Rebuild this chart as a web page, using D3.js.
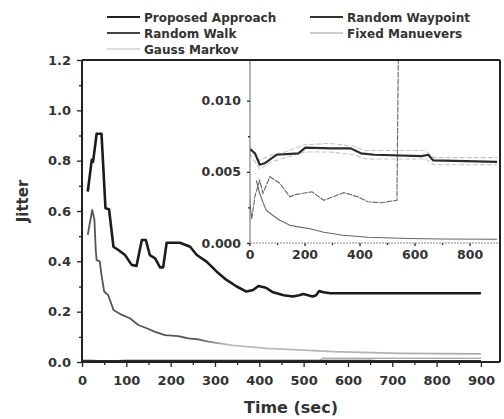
<!DOCTYPE html>
<html><head><meta charset="utf-8">
<script src="https://cdn.jsdelivr.net/npm/d3@7"></script>
<style>
html,body{margin:0;padding:0;background:#fff;}
text{font-family:"DejaVu Sans",sans-serif;font-weight:bold;fill:#333;}
</style></head>
<body>
<svg id="chart" width="504" height="419"></svg>
<script>
// ---------- data (time in sec, jitter) ----------
const seriesNames = ["Proposed Approach","Random Waypoint","Random Walk","Fixed Manuevers","Gauss Markov"];

const proposed = [[13,0.677],[22,0.803],[25,0.796],[33,0.907],[44,0.907],[53,0.611],[61,0.607],[71,0.458],[82,0.445],[97,0.425],[112,0.386],[123,0.382],[135,0.485],[144,0.485],[153,0.425],[165,0.412],[176,0.376],[183,0.376],[191,0.474],[221,0.474],[244,0.458],[259,0.425],[281,0.399],[304,0.359],[326,0.326],[349,0.300],[371,0.280],[386,0.286],[398,0.302],[415,0.295],[431,0.277],[455,0.265],[476,0.260],[490,0.265],[499,0.270],[510,0.265],[520,0.260],[528,0.265],[535,0.282],[545,0.277],[560,0.273],[900,0.273]];

const randomWalk = [[13,0.505],[23,0.604],[28,0.565],[31,0.445],[33,0.405],[40,0.400],[44,0.346],[50,0.280],[59,0.266],[71,0.207],[90,0.187],[108,0.174],[127,0.147],[146,0.134],[165,0.120],[187,0.107],[217,0.103],[240,0.094],[262,0.090],[285,0.081],[340,0.066],[417,0.054],[567,0.041],[717,0.034],[900,0.032]];

const randomWaypoint = [[0,0.0066],[8,0.0065],[20,0.0063],[37,0.0055],[55,0.0056],[80,0.00595],[98,0.0062],[178,0.0063],[203,0.0067],[295,0.00665],[368,0.00665],[405,0.0063],[454,0.0062],[626,0.0061],[650,0.0062],[668,0.0058],[900,0.0057]];
const waypointUpper = [[0,0.0068],[37,0.0058],[80,0.0062],[130,0.0064],[200,0.0069],[290,0.0070],[380,0.0068],[420,0.0065],[640,0.0065],[670,0.0060],[900,0.0060]];
const waypointLower = [[0,0.0063],[37,0.0052],[80,0.0057],[130,0.0060],[200,0.0064],[290,0.0064],[380,0.0062],[420,0.0059],[640,0.0059],[670,0.0055],[900,0.0055]];

const fixedManuevers = [[0,0.0032],[8,0.0017],[20,0.0033],[37,0.0044],[49,0.0035],[74,0.00466],[110,0.0042],[147,0.00325],[166,0.0034],[227,0.0036],[270,0.0030],[343,0.00354],[393,0.00325],[430,0.0029],[478,0.00283],[536,0.0030],[542,0.015],[900,0.015]];

const gaussMarkov = [[25,0.0044],[35,0.0036],[50,0.0028],[61,0.0023],[80,0.0020],[110,0.0016],[147,0.00125],[172,0.00115],[220,0.0010],[270,0.00075],[340,0.00055],[430,0.0004],[577,0.00032],[700,0.00028],[900,0.00026]];

const xTicks = [0,100,200,300,400,500,600,700,800,900];
const xMinor = [50,150,250,350,450,550,650,750,850];
const yTicks = [0,0.2,0.4,0.6,0.8,1.0,1.2];
const yMinor = [0.1,0.3,0.5,0.7,0.9,1.1];
const insetXTicks = [0,200,400,600,800];
const insetXMinor = [100,300,500,700];
const insetYTicks = [0,0.005,0.010];
const insetYMinor = [0.0025,0.0075];

// ---------- styles ----------
const style = {
  "Proposed Approach": {stroke:"#1c1c1c", width:2.6},
  "Random Waypoint":   {stroke:"#2a2a2a", width:2.2},
  "Random Walk":       {stroke:"#555", width:1.8},
  "Fixed Manuevers":   {stroke:"#8a8a8a", width:1.0},
  "Gauss Markov":      {stroke:"#b5b5b5", width:1.0}
};

const svg = d3.select("#chart");
svg.append("rect").attr("width",504).attr("height",419).attr("fill","#fff");

const x = d3.scaleLinear().domain([0,943]).range([82,500]);
const y = d3.scaleLinear().domain([0,1.2]).range([362,60]);
const xi = d3.scaleLinear().domain([0,910.7]).range([249.5,500]);
const yi = d3.scaleLinear().domain([0,0.01286]).range([243,60]);

// gradient for random walk fading
const defs = svg.append("defs");
const grad = defs.append("linearGradient").attr("id","rwGrad")
  .attr("gradientUnits","userSpaceOnUse")
  .attr("x1",x(0)).attr("x2",x(900)).attr("y1",0).attr("y2",0);
grad.append("stop").attr("offset",(x(260)-x(0))/(x(900)-x(0))).attr("stop-color","#555");
grad.append("stop").attr("offset",(x(330)-x(0))/(x(900)-x(0))).attr("stop-color","#bbb");
grad.append("stop").attr("offset",1).attr("stop-color","#aaa");

defs.append("clipPath").attr("id","mainClip").append("rect")
  .attr("x",x(0)).attr("y",y(1.2)).attr("width",x.range()[1]-x(0)).attr("height",y(0)-y(1.2));
defs.append("clipPath").attr("id","insetClip").append("rect")
  .attr("x",250).attr("y",yi.range()[1]).attr("width",500-250).attr("height",yi(0)-yi.range()[1]);

const line = (sx,sy) => d3.line().x(d=>sx(d[0])).y(d=>sy(d[1]));

// ---------- main plot ----------
const main = svg.append("g").attr("clip-path","url(#mainClip)");
const mainSeries = [
  ["Gauss Markov", gaussMarkov],
  ["Fixed Manuevers", fixedManuevers],
  ["Random Waypoint", randomWaypoint],
  ["Random Walk", randomWalk],
  ["Proposed Approach", proposed]
];
mainSeries.forEach(([name,data])=>{
  const s = style[name];
  main.append("path").datum(data)
    .attr("d",line(x,y))
    .attr("fill","none")
    .attr("stroke", name==="Random Walk" ? "url(#rwGrad)" : s.stroke)
    .attr("stroke-width", name==="Random Waypoint" ? 1.2 : s.width)
    .attr("stroke-linejoin","round");
});

// main axes
function styleAxis(g, fs){
  g.select(".domain").remove();
  g.selectAll(".tick line").attr("stroke","#222").attr("stroke-width",1.3);
  g.selectAll(".tick text").attr("fill","#333").style("font-size",fs+"px")
    .style("font-family","'DejaVu Sans',sans-serif").style("font-weight","bold");
}
const gx = svg.append("g").attr("transform",`translate(0,${y(0)})`)
  .call(d3.axisBottom(x).tickValues(xTicks).tickSize(5).tickPadding(9).tickFormat(d3.format("d")));
styleAxis(gx,13);
const gxm = svg.append("g").attr("transform",`translate(0,${y(0)})`)
  .call(d3.axisBottom(x).tickValues(xMinor).tickSize(3).tickFormat(""));
styleAxis(gxm,13);
const gy = svg.append("g").attr("transform",`translate(${x(0)},0)`)
  .call(d3.axisLeft(y).tickValues(yTicks).tickSize(5).tickPadding(6).tickFormat(d3.format(".1f")));
styleAxis(gy,13);
const gym = svg.append("g").attr("transform",`translate(${x(0)},0)`)
  .call(d3.axisLeft(y).tickValues(yMinor).tickSize(3).tickFormat(""));
styleAxis(gym,13);

// ---------- inset ----------
svg.append("rect").attr("x",250).attr("y",yi.range()[1]).attr("width",250).attr("height",yi(0)-yi.range()[1]).attr("fill","#fff");
const ins = svg.append("g").attr("clip-path","url(#insetClip)");
[waypointUpper, waypointLower].forEach(d=>{
  ins.append("path").datum(d).attr("d",line(xi,yi)).attr("fill","none")
    .attr("stroke","#c4c4c4").attr("stroke-width",1.1).attr("stroke-dasharray","5,2");
});
ins.append("path").datum(gaussMarkov).attr("d",line(xi,yi)).attr("fill","none")
  .attr("stroke","#666").attr("stroke-width",1.1);
ins.append("path").datum(fixedManuevers).attr("d",line(xi,yi)).attr("fill","none")
  .attr("stroke","#666").attr("stroke-width",1.1).attr("stroke-dasharray","6,1");
ins.append("path").datum(randomWaypoint).attr("d",line(xi,yi)).attr("fill","none")
  .attr("stroke","#2a2a2a").attr("stroke-width",2.2).attr("stroke-linejoin","round");

const gix = svg.append("g").attr("transform",`translate(0,${yi(0)})`)
  .call(d3.axisBottom(xi).tickValues(insetXTicks).tickSize(3).tickPadding(4).tickFormat(d3.format("d")));
styleAxis(gix,12.5);
const gixm = svg.append("g").attr("transform",`translate(0,${yi(0)})`)
  .call(d3.axisBottom(xi).tickValues(insetXMinor).tickSize(2).tickFormat(""));
styleAxis(gixm,12.5);
const giy = svg.append("g").attr("transform",`translate(250,0)`)
  .call(d3.axisLeft(yi).tickValues(insetYTicks).tickSize(3).tickPadding(6).tickFormat(d3.format(".3f")));
styleAxis(giy,12.5);
const giym = svg.append("g").attr("transform",`translate(250,0)`)
  .call(d3.axisLeft(yi).tickValues(insetYMinor).tickSize(2).tickFormat(""));
styleAxis(giym,12.5);
// inset axis lines
svg.append("line").attr("x1",250).attr("x2",250).attr("y1",yi.range()[1]).attr("y2",yi(0))
  .attr("stroke","#666").attr("stroke-width",1);
svg.append("line").attr("x1",250).attr("x2",500).attr("y1",yi(0)).attr("y2",yi(0))
  .attr("stroke","#888").attr("stroke-width",1).attr("stroke-dasharray","2,1");

// main frame
const fx0 = x(0), fx1 = x.range()[1], fy0 = y(0), fy1 = y(1.2);
svg.append("line").attr("x1",fx0).attr("x2",fx0).attr("y1",fy1).attr("y2",fy0).attr("stroke","#222").attr("stroke-width",2);
svg.append("line").attr("x1",fx0).attr("x2",fx1).attr("y1",fy0).attr("y2",fy0).attr("stroke","#222").attr("stroke-width",2);
svg.append("line").attr("x1",fx0).attr("x2",fx1).attr("y1",fy1).attr("y2",fy1).attr("stroke","#222").attr("stroke-width",2);
svg.append("line").attr("x1",fx1).attr("x2",fx1).attr("y1",fy1).attr("y2",fy0).attr("stroke","#222").attr("stroke-width",2);

// axis titles
svg.append("text").attr("x",291).attr("y",413).attr("text-anchor","middle")
  .style("font-size","16px").text("Time (sec)");
svg.append("text").attr("transform","translate(28,201) rotate(-90)").attr("text-anchor","middle")
  .style("font-size","15px").text("Jitter");

// legend
const legendPos = [[107,17],[310,17],[107,33],[310,33],[107,49]];
const legendOrder = ["Proposed Approach","Random Waypoint","Random Walk","Fixed Manuevers","Gauss Markov"];
const legendStroke = {
  "Proposed Approach":{c:"#222",w:2},
  "Random Waypoint":{c:"#333",w:1.8},
  "Random Walk":{c:"#444",w:1.8},
  "Fixed Manuevers":{c:"#999",w:1},
  "Gauss Markov":{c:"#bbb",w:1}
};
const lg = svg.append("g");
legendOrder.forEach((name,i)=>{
  const [lx,ly] = legendPos[i];
  lg.append("line").attr("x1",lx).attr("x2",lx+33).attr("y1",ly).attr("y2",ly)
    .attr("stroke",legendStroke[name].c).attr("stroke-width",legendStroke[name].w);
  lg.append("text").attr("x",lx+37).attr("y",ly+4.5).style("font-size","12px").text(name);
});
</script>
</body></html>
